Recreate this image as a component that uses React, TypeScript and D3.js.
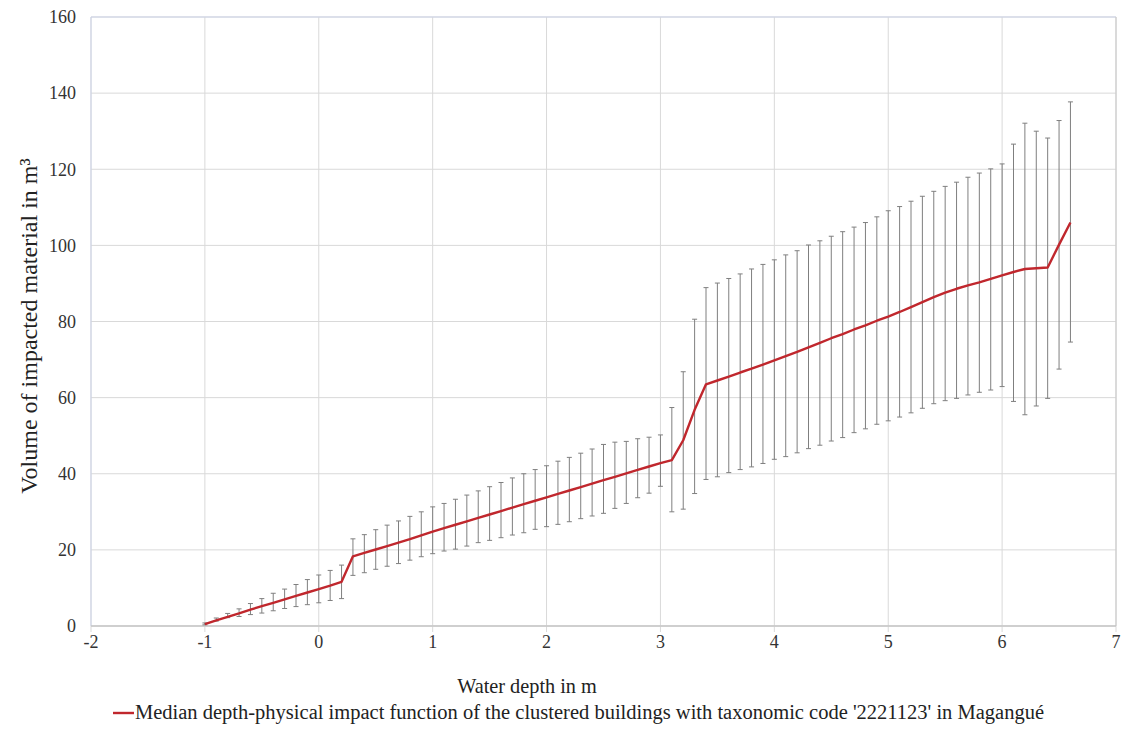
import React from "react";
import * as d3 from "d3";

const depths = [
  -1.0, -0.9, -0.8, -0.7, -0.6, -0.5, -0.4, -0.3, -0.2, -0.1,
  0.0, 0.1, 0.2, 0.3, 0.4, 0.5, 0.6, 0.7, 0.8, 0.9,
  1.0, 1.1, 1.2, 1.3, 1.4, 1.5, 1.6, 1.7, 1.8, 1.9,
  2.0, 2.1, 2.2, 2.3, 2.4, 2.5, 2.6, 2.7, 2.8, 2.9,
  3.0, 3.1, 3.2, 3.3, 3.4, 3.5, 3.6, 3.7, 3.8, 3.9,
  4.0, 4.1, 4.2, 4.3, 4.4, 4.5, 4.6, 4.7, 4.8, 4.9,
  5.0, 5.1, 5.2, 5.3, 5.4, 5.5, 5.6, 5.7, 5.8, 5.9,
  6.0, 6.1, 6.2, 6.3, 6.4, 6.5, 6.6,
];

const medianValues = [
  0.5, 1.5, 2.4, 3.3, 4.3, 5.2, 6.1, 7.0, 7.9, 8.8,
  9.7, 10.6, 11.6, 18.3, 19.2, 20.1, 21.0, 21.9, 22.8, 23.8,
  24.8, 25.7, 26.6, 27.5, 28.4, 29.3, 30.2, 31.1, 32.0, 32.9,
  33.8, 34.7, 35.6, 36.5, 37.4, 38.3, 39.2, 40.1, 41.0, 41.9,
  42.8, 43.6, 48.8, 56.8, 63.5, 64.5, 65.5, 66.6, 67.6, 68.7,
  69.8, 70.9, 72.0, 73.2, 74.4, 75.6, 76.7, 77.9, 79.0, 80.2,
  81.3, 82.5, 83.8, 85.1, 86.4, 87.6, 88.6, 89.5, 90.3, 91.2,
  92.1, 93.0, 93.8, 94.0, 94.2, 100.2, 106.0,
];

const upperValues = [
  0.8, 2.1, 3.3, 4.5, 5.9, 7.2, 8.6, 9.7, 10.9, 12.2,
  13.4, 14.6, 16.0, 22.9, 24.0, 25.3, 26.5, 27.6, 28.8, 30.0,
  31.3, 32.2, 33.3, 34.4, 35.5, 36.6, 37.7, 38.9, 40.0, 41.1,
  42.1, 43.3, 44.3, 45.4, 46.5, 47.7, 48.3, 48.5, 49.2, 49.6,
  50.2, 57.4, 66.8, 80.6, 88.9, 90.1, 91.3, 92.5, 93.8, 95.0,
  96.2, 97.5, 98.6, 100.1, 101.2, 102.4, 103.6, 104.8, 106.0, 107.5,
  109.1, 110.2, 111.6, 112.9, 114.2, 115.5, 116.6, 117.9, 119.0, 120.1,
  121.4, 126.6, 132.1, 130.0, 128.2, 132.8, 137.7,
];

const lowerValues = [
  0.3, 1.3, 2.2, 2.5, 3.0, 3.4, 4.0, 4.6, 5.1, 5.6,
  6.1, 6.7, 7.2, 13.3, 14.0, 14.9, 15.7, 16.4, 17.3, 18.2,
  19.0, 19.7, 20.2, 21.0, 21.9, 22.5, 23.2, 23.9, 24.5, 25.4,
  26.1, 26.7, 27.4, 28.2, 28.9, 29.6, 30.9, 32.2, 33.7, 34.9,
  36.7, 30.0, 30.7, 34.8, 38.5, 39.2, 40.3, 41.1, 41.8, 42.7,
  43.8, 44.5, 45.5, 46.6, 47.5, 48.6, 49.5, 50.8, 51.8, 53.0,
  53.9, 54.9, 56.0, 57.2, 58.4, 59.2, 59.8, 60.7, 61.4, 62.0,
  62.9, 59.0, 55.5, 57.8, 59.8, 67.5, 74.6,
];

const xTicks = [-2, -1, 0, 1, 2, 3, 4, 5, 6, 7];
const yTicks = [0, 20, 40, 60, 80, 100, 120, 140, 160];

const xTitle = "Water depth in m";
const yTitle = "Volume of impacted material in m³";
const legendLabel =
  "Median depth-physical impact function of the clustered buildings with taxonomic code '2221123' in Magangué";

const W = 1126;
const H = 735;
const left = 91;
const right = 1116;
const top = 17;
const bottom = 626;
const FONT = "'Liberation Serif', 'Times New Roman', serif";

export default function App() {
  const x = d3.scaleLinear().domain([-2, 7]).range([left, right]);
  const y = d3.scaleLinear().domain([0, 160]).range([bottom, top]);

  const points = depths.map((d, i) => ({
    d,
    m: medianValues[i],
    hi: upperValues[i],
    lo: lowerValues[i],
  }));

  const line = d3
    .line<{ d: number; m: number }>()
    .x((p) => x(p.d))
    .y((p) => y(p.m));

  const cap = 2.5;

  return (
    <svg
      width={W}
      height={H}
      style={{ position: "absolute", left: 0, top: 0, background: "#fff" }}
      fontFamily={FONT}
    >
      <rect x={0} y={0} width={W} height={H} fill="#fff" />
      {yTicks.map((t) => (
        <line
          key={"gy" + t}
          x1={left}
          x2={right}
          y1={y(t)}
          y2={y(t)}
          stroke={t === 0 ? "#bfbfbf" : "#d9d9d9"}
          strokeWidth={1}
        />
      ))}
      {xTicks.map((t) => (
        <line
          key={"gx" + t}
          x1={x(t)}
          x2={x(t)}
          y1={top}
          y2={bottom + 6}
          stroke="#d9d9d9"
          strokeWidth={1}
        />
      ))}
      <line x1={left} x2={right} y1={top} y2={top} stroke="#ccd3e8" strokeWidth={1} />
      <line x1={left} x2={left} y1={top} y2={bottom} stroke="#ccd3e8" strokeWidth={1} />
      <line x1={right} x2={right} y1={top} y2={bottom} stroke="#c8c8c8" strokeWidth={1} />
      <line x1={left} x2={right} y1={bottom} y2={bottom} stroke="#bfbfbf" strokeWidth={1} />

      {points.map((p, i) => (
        <g key={"eb" + i} stroke="#7f7f7f" strokeWidth={1}>
          <line x1={x(p.d)} x2={x(p.d)} y1={y(p.lo)} y2={y(p.hi)} />
          <line x1={x(p.d) - cap} x2={x(p.d) + cap} y1={y(p.hi)} y2={y(p.hi)} />
          <line x1={x(p.d) - cap} x2={x(p.d) + cap} y1={y(p.lo)} y2={y(p.lo)} />
        </g>
      ))}

      <path d={line(points) || ""} fill="none" stroke="#c0272d" strokeWidth={2.4} strokeLinejoin="round" />

      {yTicks.map((t) => (
        <text
          key={"ty" + t}
          x={left - 15}
          y={y(t)}
          dy="0.35em"
          textAnchor="end"
          fontSize={18}
          fill="#333"
        >
          {t}
        </text>
      ))}
      {xTicks.map((t) => (
        <text
          key={"tx" + t}
          x={x(t)}
          y={648}
          textAnchor="middle"
          fontSize={18}
          fill="#333"
        >
          {t}
        </text>
      ))}

      <text x={527} y={693} textAnchor="middle" fontSize={20.3} fill="#222">
        {xTitle}
      </text>
      <text
        transform={`translate(37, 326) rotate(-90)`}
        textAnchor="middle"
        fontSize={24}
        fill="#222"
      >
        {yTitle}
      </text>

      <line x1={113} x2={134} y1={713} y2={713} stroke="#c0272d" strokeWidth={2.4} />
      <text x={135} y={719} fontSize={20.5} fill="#222">
        {legendLabel}
      </text>
    </svg>
  );
}
